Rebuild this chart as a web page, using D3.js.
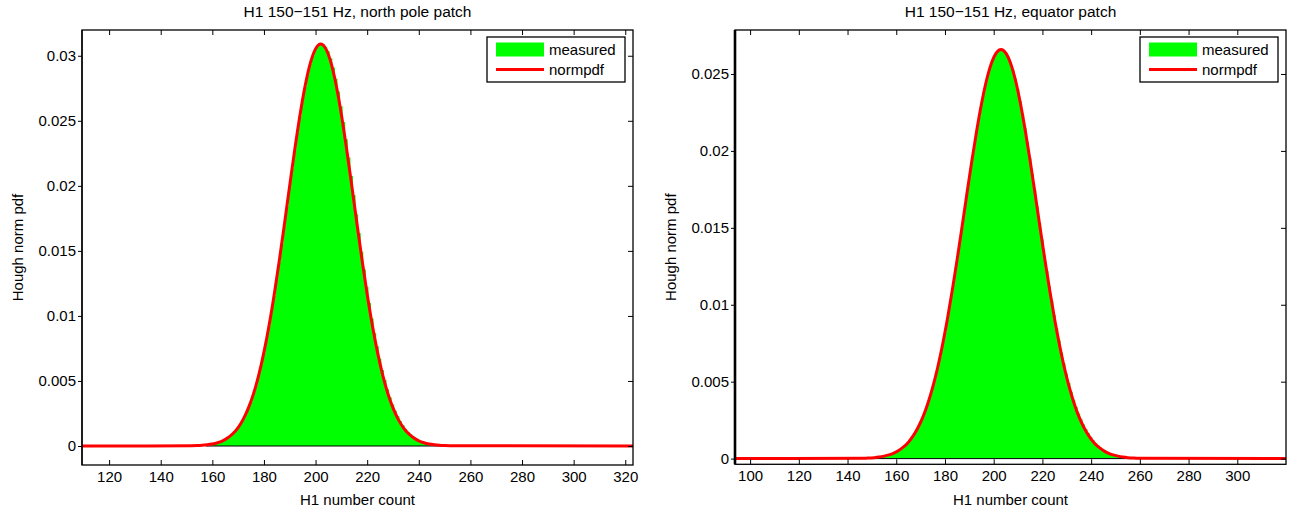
<!DOCTYPE html>
<html><head><meta charset="utf-8">
<script src="https://cdn.jsdelivr.net/npm/d3@7"></script>
<style>body{margin:0;background:#fff} text{font-family:"Liberation Sans",Arial,Helvetica,sans-serif;fill:#000}</style>
</head><body><svg id="c" width="1294" height="513"></svg>
<script>
const titles = ["H1 150\u2212151 Hz, north pole patch", "H1 150\u2212151 Hz, equator patch"];
const xLabel = "H1 number count";
const yLabel = "Hough norm pdf";
const legendLabels = ["measured", "normpdf"];

const leftXTicks = [120,140,160,180,200,220,240,260,280,300,320];
const leftYTicks = [0,0.005,0.01,0.015,0.02,0.025,0.03];
const leftYTickLabels = ["0","0.005","0.01","0.015","0.02","0.025","0.03"];
const rightXTicks = [100,120,140,160,180,200,220,240,260,280,300];
const rightYTicks = [0,0.005,0.01,0.015,0.02,0.025];
const rightYTickLabels = ["0","0.005","0.01","0.015","0.02","0.025"];

// measured histogram (bin width 1), first bin centre then values
const leftHistStart = 158;
const leftHist = [.00008,.00011,.00014,.00018,.00024,.00031,.00039,.00050,.00062,.00077,
.00094,.00115,.00140,.00169,.00204,.00243,.00289,.00341,.00399,.00466,
.00540,.00622,.00713,.00811,.00918,.01032,.01154,.01283,.01417,.01556,
.01699,.01843,.01988,.02131,.02271,.02406,.02533,.02652,.02760,.02855,
.02936,.03001,.03049,.03079,.03092,.03090,.03070,.03034,.02980,.02910,
.02824,.02725,.02612,.02490,.02358,.02218,.02075,.01929,.01782,.01637,
.01494,.01357,.01225,.01099,.00980,.00869,.00766,.00671,.00585,.00507,
.00437,.00375,.00320,.00271,.00228,.00191,.00159,.00131,.00108,.00088,
.00071,.00057,.00046,.00036,.00028,.00022,.00017,.00013,.00010,.00008,
.00006,.00004,.00003];
const rightHistStart = 150;
const rightHist = [.00003,.00004,.00006,.00008,.00010,.00013,.00017,.00021,.00027,.00033,
.00041,.00050,.00060,.00073,.00088,.00104,.00124,.00146,.00172,.00201,
.00234,.00270,.00311,.00357,.00407,.00463,.00523,.00589,.00660,.00737,
.00818,.00904,.00995,.01091,.01190,.01292,.01397,.01503,.01610,.01718,
.01824,.01929,.02030,.02127,.02219,.02304,.02383,.02453,.02513,.02564,
.02604,.02633,.02651,.02658,.02655,.02640,.02614,.02577,.02528,.02470,
.02402,.02325,.02241,.02150,.02054,.01954,.01850,.01745,.01638,.01531,
.01426,.01321,.01219,.01121,.01025,.00934,.00848,.00767,.00690,.00619,
.00552,.00491,.00434,.00383,.00336,.00294,.00256,.00222,.00192,.00165,
.00141,.00120,.00102,.00086,.00073,.00061,.00051,.00042,.00035,.00029,
.00024,.00019,.00016,.00013,.00010,.00008,.00006,.00005,.00004,.00003,.00002];

// normpdf fit curve samples
const leftCurveX = [109.5,152,154,156,158,160,162,164,166,168,170,172,174,176,178,180,182,184,186,188,190,192,194,196,198,200,
202,204,206,208,210,212,214,216,218,220,222,224,226,228,230,232,234,236,238,240,242,244,246,248,250,252,323];
const leftCurveY = [0,.00002,.00003,.00005,.00009,.00015,.00025,.00040,.00063,.00096,.00142,.00207,.00293,.00405,.00547,.00722,.00929,.01167,.01432,.01715,.02005,.02288,.02549,.02773,.02945,.03053,
.03090,.03053,.02945,.02773,.02549,.02288,.02005,.01715,.01432,.01167,.00929,.00722,.00547,.00405,.00293,.00207,.00142,.00096,.00063,.00040,.00025,.00015,.00009,.00005,.00003,.00002,0];
const rightCurveX = [93.8,147,149,151,153,155,157,159,161,163,165,167,169,171,173,175,177,179,181,183,185,187,189,191,193,195,197,199,201,
203,205,207,209,211,213,215,217,219,221,223,225,227,229,231,233,235,237,239,241,243,245,247,249,251,253,255,257,259,320];
const rightCurveY = [0,.00002,.00004,.00006,.00010,.00016,.00024,.00036,.00053,.00076,.00107,.00149,.00204,.00273,.00360,.00466,.00592,.00740,.00907,.01094,.01295,.01506,.01721,.01932,.02130,.02307,.02456,.02567,.02636,
.02660,.02636,.02567,.02456,.02307,.02130,.01932,.01721,.01506,.01295,.01094,.00907,.00740,.00592,.00466,.00360,.00273,.00204,.00149,.00107,.00076,.00053,.00036,.00024,.00016,.00010,.00006,.00004,.00002,0];

const panels = [
  {title: titles[0], box:[82,633,30,465], xd:[109.5,323], yd:[-0.00146,0.03198], lw:1.3,
   xt:leftXTicks, yt:leftYTicks, ytl:leftYTickLabels, hs:leftHistStart, h:leftHist, cx:leftCurveX, cy:leftCurveY},
  {title: titles[1], box:[735,1286,30,464.3], xd:[93.8,320], yd:[-0.00037,0.02786], lw:2.6,
   xt:rightXTicks, yt:rightYTicks, ytl:rightYTickLabels, hs:rightHistStart, h:rightHist, cx:rightCurveX, cy:rightCurveY}
];

const svg = d3.select("#c");
panels.forEach((p, pi) => {
  const [L,R,T,B] = p.box;
  const x = d3.scaleLinear().domain(p.xd).range([L,R]);
  const y = d3.scaleLinear().domain(p.yd).range([B,T]);
  const g = svg.append("g");
  const clipId = "clip"+pi;
  g.append("clipPath").attr("id",clipId).append("rect").attr("x",L).attr("y",T).attr("width",R-L).attr("height",B-T);
  const plot = g.append("g").attr("clip-path",`url(#${clipId})`);

  // histogram as step area
  const pts = [];
  p.h.forEach((v,i)=>{ const c = p.hs + i; pts.push([c-0.5,v]); pts.push([c+0.5,v]); });
  plot.append("path").datum(pts)
    .attr("d", d3.area().x(d=>x(d[0])).y0(y(0)).y1(d=>y(d[1])))
    .attr("fill","#00ff00").attr("stroke","none");
  plot.append("line").attr("x1",x(p.hs-0.5)).attr("x2",x(p.hs+p.h.length-0.5))
    .attr("y1",y(0)).attr("y2",y(0)).attr("stroke","#000").attr("stroke-width",1);

  // normpdf curve
  const cpts = p.cx.map((v,i)=>[v,p.cy[i]]);
  plot.append("path").datum(cpts)
    .attr("d", d3.line().x(d=>x(d[0])).y(d=>y(d[1])).curve(d3.curveMonotoneX))
    .attr("fill","none").attr("stroke","#ff0000").attr("stroke-width",3).attr("stroke-linejoin","round");

  // axes
  const fs = "15px";
  const bx = g.append("g").attr("transform",`translate(0,${B})`)
    .call(d3.axisBottom(x).tickValues(p.xt).tickSize(-5).tickPadding(6).tickFormat(d3.format("d")));
  const tx = g.append("g").attr("transform",`translate(0,${T})`)
    .call(d3.axisTop(x).tickValues(p.xt).tickSize(-5).tickFormat(""));
  const ly = g.append("g").attr("transform",`translate(${L},0)`)
    .call(d3.axisLeft(y).tickValues(p.yt).tickSize(4).tickPadding(2).tickFormat((d,i)=>p.ytl[i]));
  const ry = g.append("g").attr("transform",`translate(${R},0)`)
    .call(d3.axisRight(y).tickValues(p.yt).tickSize(-5).tickFormat(""));
  [bx,tx,ly,ry].forEach(a=>{
    a.select(".domain").remove();
    a.selectAll("line").attr("stroke","#000").attr("stroke-width",1);
    a.selectAll("text").attr("font-size",fs).attr("font-family",'"Liberation Sans",Arial,sans-serif');
  });
  g.append("rect").attr("x",L).attr("y",T).attr("width",R-L).attr("height",B-T)
    .attr("fill","none").attr("stroke","#000").attr("stroke-width",1.3);
  g.append("line").attr("x1",L).attr("x2",L).attr("y1",T).attr("y2",B)
    .attr("stroke","#000").attr("stroke-width",p.lw);

  // titles and labels
  g.append("text").attr("x",(L+R)/2).attr("y",12).attr("dy","0.35em").attr("text-anchor","middle")
    .attr("font-size","15.5px").text(p.title);
  g.append("text").attr("x",(L+R)/2).attr("y",500).attr("dy","0.35em").attr("text-anchor","middle")
    .attr("font-size","15px").text(xLabel);
  g.append("text").attr("transform",`translate(${L-64},${(T+B)/2}) rotate(-90)`).attr("dy","0.35em")
    .attr("text-anchor","middle").attr("font-size","15px").text(yLabel);

  // legend
  const lw = 138, lh = 45;
  const lx = R - 8 - lw, lyy = T + 7;
  const leg = g.append("g");
  leg.append("rect").attr("x",lx).attr("y",lyy).attr("width",lw).attr("height",lh)
    .attr("fill","#fff").attr("stroke","#000").attr("stroke-width",1.3);
  leg.append("rect").attr("x",lx+9).attr("y",lyy+5.5).attr("width",48).attr("height",14).attr("fill","#00ff00");
  leg.append("line").attr("x1",lx+9).attr("x2",lx+57).attr("y1",lyy+32.5).attr("y2",lyy+32.5)
    .attr("stroke","#ff0000").attr("stroke-width",3);
  leg.append("text").attr("x",lx+62).attr("y",lyy+12.5).attr("dy","0.35em").attr("font-size","15px").text(legendLabels[0]);
  leg.append("text").attr("x",lx+62).attr("y",lyy+32.5).attr("dy","0.35em").attr("font-size","15px").text(legendLabels[1]);
});
</script></body></html>
